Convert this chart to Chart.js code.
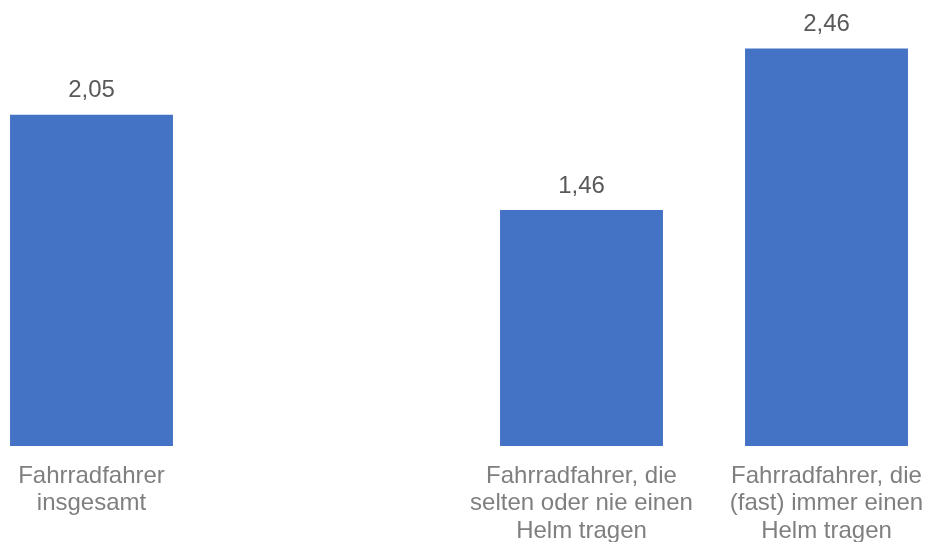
<!DOCTYPE html>
<html>
<head>
<meta charset="utf-8">
<script src="https://cdn.jsdelivr.net/npm/chart.js@4"></script>
<style>
  html, body { margin: 0; padding: 0; background: #fff; overflow: hidden; }
  .wrap { position: absolute; left: -31px; top: 0; width: 980px; height: 542px; }
</style>
</head>
<body>
<div class="wrap"><canvas id="chart" width="980" height="542"></canvas></div>
<script>
// categories (the second slot is an empty gap in the original)
const categories = [
    ['Fahrradfahrer', 'insgesamt'],
    '',
    ['Fahrradfahrer, die', 'selten oder nie einen', 'Helm tragen'],
    ['Fahrradfahrer, die', '(fast) immer einen', 'Helm tragen']
];
const values = [2.05, null, 1.46, 2.46];
const valueLabels = ['2,05', '', '1,46', '2,46'];

// draws the number above each bar
const barValueLabels = {
    id: 'barValueLabels',
    afterDatasetsDraw(chart) {
        const ctx = chart.ctx;
        const meta = chart.getDatasetMeta(0);
        ctx.save();
        ctx.font = '24px "Liberation Sans", Arial, sans-serif';
        ctx.fillStyle = '#595959';
        ctx.textAlign = 'center';
        ctx.textBaseline = 'middle';
        meta.data.forEach((bar, i) => {
            if (values[i] == null) return;
            ctx.fillText(valueLabels[i], bar.x, bar.y - 24);
        });
        ctx.restore();
    }
};

const ctx = document.getElementById('chart').getContext('2d');
new Chart(ctx, {
    type: 'bar',
    data: {
        labels: categories,
        datasets: [{
            data: values,
            backgroundColor: '#4472C4',
            borderWidth: 0,
            categoryPercentage: 1,
            barPercentage: 0.665
        }]
    },
    options: {
        responsive: false,
        animation: false,
        layout: { padding: 0 },
        plugins: {
            legend: { display: false },
            tooltip: { enabled: false }
        },
        scales: {
            x: {
                grid: { display: false },
                border: { display: false },
                ticks: {
                    color: '#7F7F7F',
                    padding: 8,
                    maxRotation: 0,
                    autoSkip: false,
                    font: { family: '"Liberation Sans", Arial, sans-serif', size: 24, lineHeight: 1.16 }
                },
                afterFit(scale) { scale.height = 96; }
            },
            y: {
                display: false,
                min: 0,
                max: 2.76
            }
        }
    },
    plugins: [barValueLabels]
});
</script>
</body>
</html>
